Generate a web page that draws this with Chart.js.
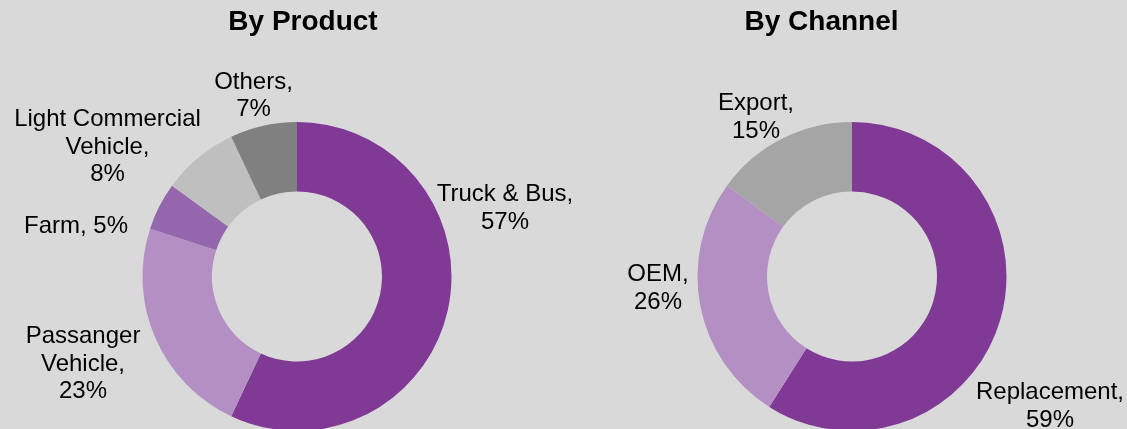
<!DOCTYPE html>
<html>
<head>
<meta charset="utf-8">
<script src="https://cdn.jsdelivr.net/npm/chart.js@4/dist/chart.umd.min.js"></script>
<style>
  html, body { margin: 0; padding: 0; background: #d9d9d9; overflow: hidden; }
  .panel { position: absolute; top: 0; }
  #productPanel { left: 0; }
  #channelPanel { left: 590px; }
</style>
</head>
<body>
<div class="panel" id="productPanel"><canvas id="productChart" width="590" height="431"></canvas></div>
<div class="panel" id="channelPanel"><canvas id="channelChart" width="537" height="431"></canvas></div>
<script>
const productNames = ["Truck & Bus", "Passanger Vehicle", "Farm", "Light Commercial Vehicle", "Others"];
const productShares = [57, 23, 5, 8, 7];
const productColors = ["#803a95", "#b48fc4", "#9467ac", "#bfbfbf", "#808080"];

const channelNames = ["Replacement", "OEM", "Export"];
const channelShares = [59, 26, 15];
const channelColors = ["#803a95", "#b48fc4", "#a5a5a5"];

// label anchors relative to the doughnut centre (first baseline)
const productLabelLayout = [
  { dx: 208, dy: -75.5 },
  { dx: -214, dy: 66.5, nameBreak: 1 },
  { dx: -221, dy: -44, inline: true },
  { dx: -189.5, dy: -150.5, nameBreak: 2 },
  { dx: -43.5, dy: -188 }
];
const channelLabelLayout = [
  { dx: 198, dy: 122.5 },
  { dx: -194, dy: 4.5 },
  { dx: -96, dy: -166.5 }
];

const fontFamily = "'Liberation Sans', Arial, sans-serif";
const lineHeight = 27.5;

const outsideLabels = {
  id: "outsideLabels",
  afterDraw(chart, args, opts) {
    const ctx = chart.ctx;
    const arc = chart.getDatasetMeta(0).data[0];
    const cx = arc.x;
    const cy = arc.y;
    const names = chart.data.labels;
    const values = chart.data.datasets[0].data;

    ctx.save();
    ctx.fillStyle = "#000000";
    ctx.textAlign = "center";
    ctx.textBaseline = "alphabetic";

    ctx.font = "bold 28px " + fontFamily;
    ctx.fillText(opts.title, cx + opts.titleDx, opts.titleY);

    ctx.font = "24px " + fontFamily;
    opts.layout.forEach((pos, i) => {
      let lines;
      if (pos.inline) {
        lines = [names[i] + ", " + values[i] + "%"];
      } else {
        const words = names[i].split(" ");
        const cut = pos.nameBreak || words.length;
        lines = [words.slice(0, cut).join(" "), words.slice(cut).join(" ")].filter(Boolean);
        lines[lines.length - 1] += ",";
        lines.push(values[i] + "%");
      }
      lines.forEach((line, k) => {
        ctx.fillText(line, cx + pos.dx, cy + pos.dy + k * lineHeight);
      });
    });
    ctx.restore();
  }
};

function renderDoughnut(canvasId, labels, values, colors, padding, labelOptions) {
  const canvas = document.getElementById(canvasId);

  if (!canvas || !window.Chart) {
    return;
  }

  return new Chart(canvas, {
    type: "doughnut",
    data: {
      labels,
      datasets: [{
        data: values,
        backgroundColor: colors,
        borderWidth: 0,
        hoverOffset: 0
      }]
    },
    options: {
      responsive: false,
      animation: false,
      cutout: "55%",
      layout: { padding },
      plugins: {
        legend: { display: false },
        tooltip: { enabled: false },
        outsideLabels: labelOptions
      }
    },
    plugins: [outsideLabels]
  });
}

renderDoughnut("productChart", productNames, productShares, productColors,
  { left: 100, right: 96, top: 122, bottom: 0 },
  { title: "By Product", titleDx: 6, titleY: 29.5, layout: productLabelLayout });

renderDoughnut("channelChart", channelNames, channelShares, channelColors,
  { left: 107, right: 120, top: 122, bottom: 0 },
  { title: "By Channel", titleDx: -30.5, titleY: 29.5, layout: channelLabelLayout });
</script>
</body>
</html>
